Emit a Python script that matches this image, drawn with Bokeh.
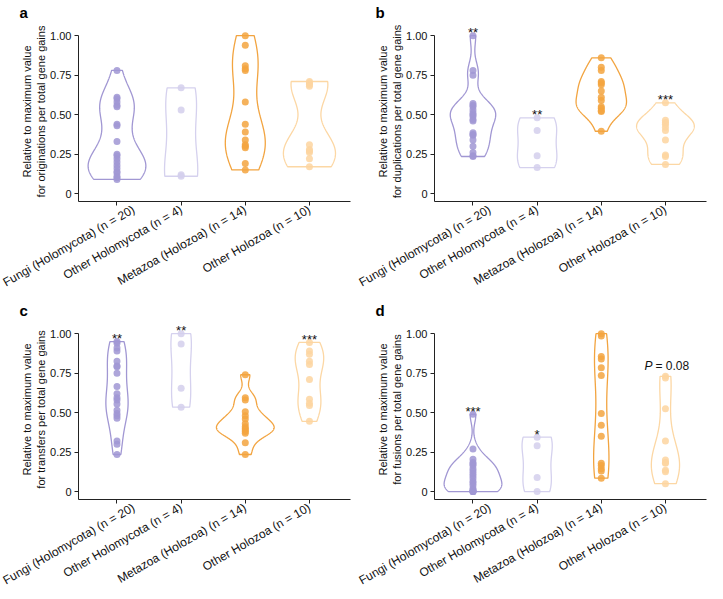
import numpy as np
from bokeh.plotting import figure
from bokeh.layouts import gridplot
from bokeh.models import FixedTicker, Range1d, ColumnDataSource
from bokeh.core.properties import value
from bokeh.embed import file_html
from bokeh.resources import INLINE

# ---------------- data ----------------
groups = ["Fungi (Holomycota) (n = 20)", "Other Holomycota (n = 4)",
          "Metazoa (Holozoa) (n = 14)", "Other Holozoa (n = 10)"]
line_colors = ["#a197d3", "#d5d1ee", "#f2a440", "#fcd7a4"]
dot_colors = ["#a097d3", "#d3cfec", "#f3a540", "#fdd5a0"]

y_ticks = [0, 0.25, 0.5, 0.75, 1.0]
y_tick_labels = ["0", "0.25", "0.50", "0.75", "1.00"]

# a: originations
a_fungi = [0.78, 0.61, 0.60, 0.58, 0.56, 0.55, 0.44, 0.43, 0.33, 0.25, 0.24, 0.22,
           0.20, 0.18, 0.16, 0.14, 0.13, 0.11, 0.10, 0.09]
a_other_holo = [0.67, 0.53, 0.12, 0.11]
a_metazoa = [1.00, 0.94, 0.81, 0.79, 0.78, 0.58, 0.44, 0.39, 0.34, 0.31, 0.30, 0.29, 0.19, 0.15]
a_other_holoz = [0.71, 0.70, 0.69, 0.68, 0.31, 0.28, 0.27, 0.26, 0.22, 0.17]

# b: duplications
b_fungi = [1.00, 0.78, 0.75, 0.57, 0.56, 0.55, 0.53, 0.51, 0.50, 0.49, 0.47, 0.46,
           0.385, 0.375, 0.37, 0.34, 0.30, 0.26, 0.24, 0.235]
b_other_holo = [0.48, 0.40, 0.24, 0.165]
b_metazoa = [0.86, 0.80, 0.78, 0.71, 0.70, 0.69, 0.65, 0.61, 0.59, 0.55, 0.54, 0.525, 0.52, 0.395]
b_other_holoz = [0.575, 0.465, 0.45, 0.44, 0.42, 0.40, 0.34, 0.245, 0.235, 0.185]

# c: transfers
c_fungi = [0.95, 0.94, 0.91, 0.89, 0.825, 0.795, 0.79, 0.75, 0.665, 0.62, 0.595, 0.58,
           0.555, 0.515, 0.495, 0.48, 0.465, 0.32, 0.30, 0.235]
c_other_holo = [1.00, 0.935, 0.655, 0.535]
c_metazoa = [0.74, 0.595, 0.58, 0.505, 0.48, 0.46, 0.43, 0.41, 0.40, 0.39, 0.38, 0.37, 0.31, 0.235]
c_other_holoz = [0.945, 0.89, 0.87, 0.825, 0.805, 0.71, 0.585, 0.56, 0.545, 0.445]

# d: fusions
d_fungi = [0.49, 0.27, 0.205, 0.185, 0.175, 0.165, 0.145, 0.13, 0.115, 0.10, 0.085, 0.065,
           0.055, 0.04, 0.02, 0.01, 0.0, 0.0, 0.0, 0.0]
d_other_holo = [0.345, 0.29, 0.09, 0.0]
d_metazoa = [1.0, 0.985, 0.855, 0.84, 0.785, 0.735, 0.495, 0.42, 0.35, 0.18, 0.165, 0.145, 0.13, 0.085]
d_other_holoz = [0.73, 0.72, 0.525, 0.32, 0.20, 0.185, 0.18, 0.135, 0.125, 0.05]

letters = ["a", "b", "c", "d"]
measures = ["originations", "duplications", "transfers", "fusions"]

b_sig_groups = [0, 1, 3]
b_sig_text = ["**", "**", "***"]
c_sig_groups = [0, 1, 3]
c_sig_text = ["**", "**", "***"]
d_sig_groups = [0, 1]
d_sig_text = ["***", "*"]
d_p_group = 3
d_p_value = "0.08"

FONT = "Liberation Sans"
FW, FH = 272, 180
Y0, Y1 = -0.05, 1.09


def kde(vals, npts=256):
    v = np.asarray(vals, float)
    n = len(v)
    sd = v.std(ddof=1)
    q75, q25 = np.percentile(v, [75, 25])
    lo = min(sd, (q75 - q25) / 1.34)
    if lo <= 0:
        lo = sd if sd > 0 else 0.1
    bw = 0.9 * lo * n ** -0.2
    grid = np.linspace(v.min(), v.max(), npts)
    dens = np.exp(-0.5 * ((grid[:, None] - v[None, :]) / bw) ** 2).sum(1) / (n * bw * np.sqrt(2 * np.pi))
    return grid, dens


def make_panel(idx, series, sig_groups=(), sig_text=(), p_group=None, p_text=None,
               right_border=1):
    p = figure(frame_width=FW, frame_height=FH, x_range=Range1d(0.4, 4.64),
               y_range=Range1d(Y0, Y1), output_backend="svg", toolbar_location=None,
               min_border_left=78, min_border_right=right_border, min_border_top=0,
               min_border_bottom=0, title=letters[idx])
    p.title.text_font = FONT
    p.title.text_font_style = "bold"
    p.title.text_font_size = "15px"
    p.title.text_color = "#000000"
    p.title.align = "left"
    p.title.offset = -59
    p.title.standoff = 2
    p.outline_line_color = None
    p.xgrid.visible = False
    p.ygrid.visible = False
    p.background_fill_color = "white"
    p.border_fill_color = "white"

    kdes = [kde(s) for s in series]
    dmax = max(d.max() for _, d in kdes)
    for gi, (s, (grid, dens)) in enumerate(zip(series, kdes)):
        cx = gi + 1
        hw = 0.45 * dens / dmax
        xs = np.concatenate([cx + hw, (cx - hw)[::-1]])
        ys = np.concatenate([grid, grid[::-1]])
        p.patch(xs, ys, fill_color=None, line_color=line_colors[gi], line_width=1.3)
    for gi, s in enumerate(series):
        p.scatter(x=[gi + 1] * len(s), y=s, size=7, fill_color=dot_colors[gi],
                  line_color=None, fill_alpha=0.85)

    if sig_groups:
        src = ColumnDataSource(dict(x=[g + 1 for g in sig_groups],
                                    y=[max(series[g]) for g in sig_groups],
                                    t=list(sig_text)))
        p.text(x="x", y="y", text="t", source=src, text_align="center",
               text_baseline="alphabetic", y_offset=-3, text_font=value(FONT),
               text_font_size="13px", text_color="#111111")
    if p_group is not None:
        ym = max(series[p_group])
        p.text(x=[p_group + 1], y=[ym], text=["P"], text_align="right",
               text_baseline="alphabetic", x_offset=-13, y_offset=-10,
               text_font=value(FONT), text_font_style="italic",
               text_font_size="12px", text_color="#111111")
        p.text(x=[p_group + 1], y=[ym], text=["= " + p_text], text_align="left",
               text_baseline="alphabetic", x_offset=-10, y_offset=-10,
               text_font=value(FONT), text_font_size="12px", text_color="#111111")

    # axes
    xa = p.xaxis[0]
    xa.ticker = FixedTicker(ticks=[1, 2, 3, 4])
    xa.major_label_overrides = {i + 1: g for i, g in enumerate(groups)}
    xa.major_label_orientation = 30 * np.pi / 180
    xa.major_label_text_font = FONT
    xa.major_label_text_font_size = "12px"
    xa.major_label_text_color = "#111111"
    xa.major_tick_in = 0
    xa.major_tick_out = 4
    xa.minor_tick_line_color = None
    xa.axis_line_color = "#222222"
    xa.major_tick_line_color = "#222222"
    xa.major_label_standoff = 3

    ya = p.yaxis[0]
    ya.ticker = FixedTicker(ticks=y_ticks)
    ya.major_label_overrides = {t: l for t, l in zip(y_ticks, y_tick_labels)}
    ya.bounds = (Y0, 1.0)
    ya.major_label_text_font = FONT
    ya.major_label_text_font_size = "11px"
    ya.major_label_text_color = "#111111"
    ya.major_tick_in = 0
    ya.major_tick_out = 4
    ya.minor_tick_line_color = None
    ya.axis_line_color = "#222222"
    ya.major_tick_line_color = "#222222"
    ya.major_label_standoff = 3
    ya.axis_label = "Relative to maximum value\nfor %s per total gene gains" % measures[idx]
    ya.axis_label_text_font = FONT
    ya.axis_label_text_font_size = "11px"
    ya.axis_label_text_font_style = "normal"
    ya.axis_label_text_color = "#111111"
    ya.axis_label_standoff = 0
    return p


pa = make_panel(0, [a_fungi, a_other_holo, a_metazoa, a_other_holoz], right_border=6)
pb = make_panel(1, [b_fungi, b_other_holo, b_metazoa, b_other_holoz], b_sig_groups, b_sig_text)
pc = make_panel(2, [c_fungi, c_other_holo, c_metazoa, c_other_holoz], c_sig_groups, c_sig_text,
                right_border=6)
pd = make_panel(3, [d_fungi, d_other_holo, d_metazoa, d_other_holoz], d_sig_groups, d_sig_text,
                d_p_group, d_p_value)

grid = gridplot([[pa, pb], [pc, pd]], toolbar_location=None)

open("out.html", "w").write(file_html(grid, INLINE))
